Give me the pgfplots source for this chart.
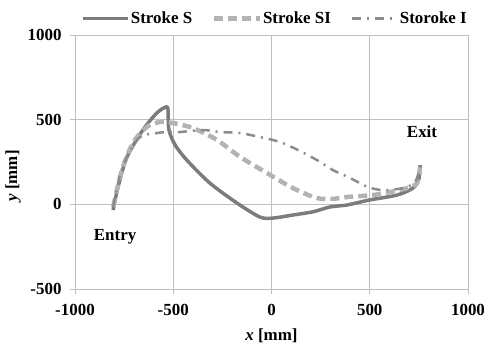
\documentclass[border=0pt]{standalone}
\usepackage{fontspec}
\setmainfont{Liberation Serif}
\usepackage{pgfplots}
\pgfplotsset{compat=1.18}
\definecolor{cS}{HTML}{7C7C7C}
\definecolor{cSI}{HTML}{B3B3B3}
\definecolor{cI}{HTML}{8C8C8C}
\definecolor{gridc}{HTML}{BFBFBF}
\begin{document}
\begin{tikzpicture}
\begin{axis}[
  scale only axis,
  width=393bp, height=254bp,
  xmin=-1000, xmax=1000, ymin=-500, ymax=1000,
  xtick={-1000,-500,0,500,1000},
  ytick={-500,0,500,1000},
  grid=major,
  major grid style={gridc, line width=0.6pt},
  axis line style={gridc, line width=0.6pt},
  tick style={gridc, line width=0.6pt},
  tick align=outside,
  major tick length=5pt,
  xtick pos=bottom, ytick pos=left,
  /pgf/number format/assume math mode=true,
  /pgf/number format/1000 sep={},
  ticklabel style={font=\fontsize{17}{19}\selectfont\bfseries, text=black},
  xticklabel style={yshift=-7pt},
  yticklabel style={xshift=-5pt},
  xlabel={\textbf{\textit{x} [mm]}},
  ylabel={\textbf{\textit{y} [mm]}},
  label style={font=\fontsize{17}{19}\selectfont},
  xlabel style={yshift=-6pt},
  ylabel style={yshift=0pt, xshift=-14pt},
  legend columns=3,
  legend style={at={(1,1.035)}, anchor=south east, draw=none, fill=none,
    font=\fontsize{17}{19}\selectfont\bfseries, inner sep=0pt,
    nodes={inner xsep=1pt, inner ysep=1pt},
    /tikz/every odd column/.append style={column sep=0pt},
    /tikz/every even column/.append style={column sep=19bp}},
  legend image code/.code={\draw[#1] (0cm,0cm) -- (1.6cm,0cm);},
  clip=false,
]
\addplot[cS, line width=3.5pt, line join=round, smooth] coordinates {
(-806,-34) (-781,102) (-735,280) (-654,440) (-583,540) (-537,575) (-527,560)
(-522,440) (-490,350) (-430,260) (-313,125) (-176,8) (-59,-75) (8,-81)
(109,-63) (211,-44) (300,-15) (384,-4) (496,25) (639,55) (720,96) (750,150) (756,232)
};
\addlegendentry{Stroke S}
\addplot[cSI, line width=4.5pt, dash pattern=on 9pt off 5pt, smooth] coordinates {
(-806,-16) (-761,203) (-705,362) (-634,457) (-567,486) (-501,480) (-399,450)
(-277,380) (-160,280) (-23,185) (109,96) (232,37) (320,33) (384,43) (517,55)
(603,73) (690,96) (740,126) (756,220)
};
\addlegendentry{Stroke SI}
\addplot[cI, line width=2.5pt, dash pattern=on 9pt off 6pt on 2pt off 6pt, smooth] coordinates {
(-806,-16) (-771,173) (-730,291) (-669,397) (-583,421) (-532,427) (-466,427)
(-349,439) (-262,427) (-160,421) (-59,397) (43,368) (145,315) (232,261)
(313,202) (399,156) (491,102) (567,84) (669,96) (730,131) (756,220)
};
\addlegendentry{Storoke I}
\node[font=\fontsize{17}{19}\selectfont\bfseries] at (axis cs:-796,-194) {Entry};
\node[font=\fontsize{17}{19}\selectfont\bfseries] at (axis cs:766,428) {Exit};
\end{axis}
\pgfresetboundingbox
\path ([xshift=-75bp,yshift=-58bp]current axis.south west) rectangle ([xshift=21bp,yshift=35bp]current axis.north east);
\end{tikzpicture}
\end{document}
